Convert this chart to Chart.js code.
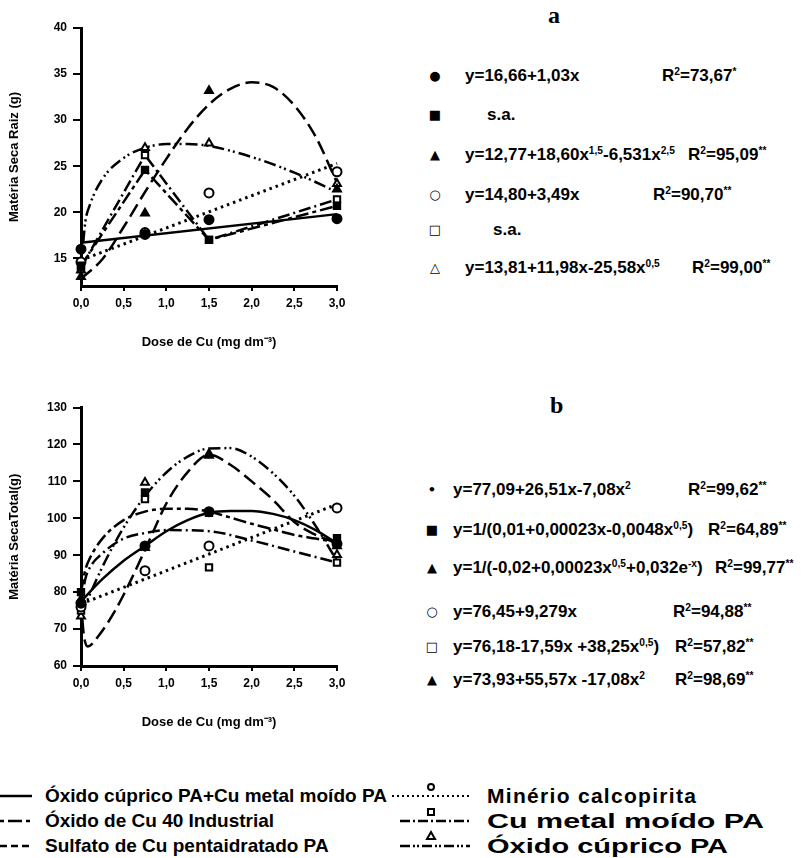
<!DOCTYPE html>
<html>
<head>
<meta charset="utf-8">
<script src="https://cdn.jsdelivr.net/npm/chart.js@4.4.1/dist/chart.umd.min.js"></script>
<style>
    body { margin: 0; background: #fff; }
    #page { position: relative; width: 805px; height: 858px; overflow: hidden; color: #000;
            font-family: "Liberation Sans", Arial, sans-serif; font-weight: bold; }
    canvas { position: absolute; left: 0; }
    .t { position: absolute; white-space: nowrap; font-size: 17px; line-height: 20px; }
    .mk { position: absolute; width: 20px; text-align: center; font-family: "DejaVu Sans", sans-serif;
          font-size: 13px; line-height: 20px; }
    .panel { position: absolute; font-family: "Liberation Serif", serif; font-size: 24px; line-height: 24px; }
    .lg { position: absolute; white-space: nowrap; font-size: 19px; line-height: 22px; transform-origin: 0 50%; }
    sup { font-size: 60%; vertical-align: 0.6em; line-height: 0; }
    svg { position: absolute; left: 0; }
</style>
</head>
<body>
<div id="page">
    <canvas id="chartA" width="400" height="360" style="top:0"></canvas>
    <canvas id="chartB" width="400" height="360" style="top:380px"></canvas>

    <!-- a -->
    <div class="panel" style="left:548px;top:3px">a</div>
    <div class="mk" style="left:425px;top:66px">●</div>
    <div class="t" style="left:465px;top:66px">y=16,66+1,03x</div>
    <div class="t" style="left:662px;top:66px">R<sup>2</sup>=73,67<sup>*</sup></div>
    <div class="mk" style="left:425px;top:105px">■</div>
    <div class="t" style="left:487px;top:105px">s.a.</div>
    <div class="mk" style="left:425px;top:145px">▲</div>
    <div class="t" style="left:465px;top:145px">y=12,77+18,60x<sup>1,5</sup>-6,531x<sup>2,5</sup></div>
    <div class="t" style="left:688px;top:145px">R<sup>2</sup>=95,09<sup>**</sup></div>
    <div class="mk" style="left:425px;top:185px">○</div>
    <div class="t" style="left:465px;top:185px">y=14,80+3,49x</div>
    <div class="t" style="left:653px;top:185px">R<sup>2</sup>=90,70<sup>**</sup></div>
    <div class="mk" style="left:425px;top:220px">□</div>
    <div class="t" style="left:493px;top:220px">s.a.</div>
    <div class="mk" style="left:425px;top:258px">△</div>
    <div class="t" style="left:465px;top:258px">y=13,81+11,98x-25,58x<sup>0,5</sup></div>
    <div class="t" style="left:692px;top:258px">R<sup>2</sup>=99,00<sup>**</sup></div>

    <!-- b -->
    <div class="panel" style="left:550px;top:393px">b</div>
    <div class="mk" style="left:422px;top:480px">•</div>
    <div class="t" style="left:453px;top:480px">y=77,09+26,51x-7,08x<sup>2</sup></div>
    <div class="t" style="left:688px;top:480px">R<sup>2</sup>=99,62<sup>**</sup></div>
    <div class="mk" style="left:422px;top:520px">■</div>
    <div class="t" style="left:453px;top:520px">y=1/(0,01+0,00023x-0,0048x<sup>0,5</sup>)</div>
    <div class="t" style="left:708px;top:520px">R<sup>2</sup>=64,89<sup>**</sup></div>
    <div class="mk" style="left:422px;top:558px">▲</div>
    <div class="t" style="left:453px;top:558px">y=1/(-0,02+0,00023x<sup>0,5</sup>+0,032e<sup>-x</sup>)</div>
    <div class="t" style="left:715px;top:558px">R<sup>2</sup>=99,77<sup>**</sup></div>
    <div class="mk" style="left:422px;top:602px">○</div>
    <div class="t" style="left:453px;top:602px">y=76,45+9,279x</div>
    <div class="t" style="left:673px;top:602px">R<sup>2</sup>=94,88<sup>**</sup></div>
    <div class="mk" style="left:422px;top:637px">□</div>
    <div class="t" style="left:453px;top:637px">y=76,18-17,59x +38,25x<sup>0,5</sup>)</div>
    <div class="t" style="left:675px;top:637px">R<sup>2</sup>=57,82<sup>**</sup></div>
    <div class="mk" style="left:422px;top:670px">▲</div>
    <div class="t" style="left:453px;top:670px">y=73,93+55,57x -17,08x<sup>2</sup></div>
    <div class="t" style="left:675px;top:670px">R<sup>2</sup>=98,69<sup>**</sup></div>

    <!-- legend -->
    <svg width="805" height="88" style="top:770px" stroke="#000" stroke-width="2.5" fill="none">
        <line x1="0" y1="26" x2="32" y2="26"/>
        <line x1="0" y1="51" x2="32" y2="51" stroke-dasharray="4 4 14 4"/>
        <line x1="0" y1="76" x2="32" y2="76" stroke-dasharray="7 4"/>
        <line x1="392" y1="26" x2="470" y2="26" stroke-dasharray="2 3" stroke-width="2"/>
        <circle cx="431" cy="17" r="3" stroke-width="2"/>
        <line x1="400" y1="51" x2="470" y2="51" stroke-dasharray="10 3 2 3"/>
        <rect x="428" y="39" width="6" height="6" stroke-width="2"/>
        <line x1="400" y1="76" x2="470" y2="76" stroke-dasharray="10 3 2 2 2 3"/>
        <polygon points="431,62 427,69 435,69" stroke-width="2"/>
    </svg>
    <div class="lg" style="left:45px;top:785px">Óxido cúprico PA+Cu metal moído PA</div>
    <div class="lg" style="left:45px;top:810px">Óxido de Cu 40 Industrial</div>
    <div class="lg" style="left:45px;top:835px">Sulfato de Cu pentaidratado PA</div>
    <div class="lg" style="left:487px;top:785px;font-size:21px;letter-spacing:1.3px">Minério calcopirita</div>
    <div class="lg" style="left:487px;top:810px;font-size:21px;transform:scaleX(1.45)">Cu metal moído PA</div>
    <div class="lg" style="left:487px;top:835px;font-size:21px;transform:scaleX(1.38)">Óxido cúprico PA</div>
</div>

<script>
// doses of Cu (mg dm-3)
const doses = [0, 0.75, 1.5, 3];
const xTicks = [0, 0.5, 1, 1.5, 2, 2.5, 3];
const xTickLabels = ["0,0", "0,5", "1,0", "1,5", "2,0", "2,5", "3,0"];

// a - Matéria Seca Raiz (g)
const yTicksA = [15, 20, 25, 30, 35, 40];
const rootCircle = [16.0, 17.6, 19.2, 19.3];      // ● Óxido cúprico PA+Cu metal moído PA
const rootSquare = [14.2, 24.6, 17.0, 20.7];      // ■ Óxido de Cu 40 Industrial (s.a.)
const rootTriangle = [13.0, 19.9, 33.2, 22.5];    // ▲ Sulfato de Cu pentaidratado PA
const rootOpenCircle = [14.6, 17.8, 22.1, 24.4];  // ○ Minério calcopirita
const rootOpenSquare = [14.0, 26.2, 17.0, 21.4];  // □ Cu metal moído PA (s.a.)
const rootOpenTriangle = [13.7, 27.0, 27.5, 23.1];// △ Óxido cúprico PA

// fitted curves
const rootLineX = [0, 3];
const rootCircleFit = [16.7, 19.8];
const rootOpenCircleFit = [14.8, 25.3];
const rootTriangleX = [0, 0.25, 0.5, 0.75, 1, 1.25, 1.5, 1.75, 2, 2.25, 2.5, 2.75, 3];
const rootTriangleFit = [12.8, 14.9, 18.4, 22.2, 25.8, 29.1, 31.7, 33.4, 34.1, 33.6, 31.6, 28.2, 23.2];
const rootOpenTriangleX = [0, 0.05, 0.1, 0.25, 0.5, 0.75, 1, 1.25, 1.5, 2, 2.5, 3];
const rootOpenTriangleFit = [13.8, 18.9, 20.7, 23.6, 25.9, 27.0, 27.4, 27.4, 27.2, 26.0, 24.3, 22.2];

// b - Matéria Seca Total (g)
const yTicksB = [60, 70, 80, 90, 100, 110, 120, 130];
const totalCircle = [77.0, 92.5, 101.8, 93.1];
const totalSquare = [80.0, 107.0, 101.5, 94.6];
const totalTriangle = [78.0, 92.0, 117.0, 92.5];
const totalOpenCircle = [76.0, 85.8, 92.5, 102.8];
const totalOpenSquare = [75.0, 105.2, 86.7, 88.0];
const totalOpenTriangle = [73.5, 109.7, 117.5, 90.1];

// fitted curves
const totalCurveX = [0, 0.25, 0.5, 0.75, 1, 1.25, 1.5, 1.75, 2, 2.25, 2.5, 2.75, 3];
const totalCircleFit = [77.5, 83.5, 88.5, 92.5, 96.5, 99.5, 101.5, 102.0, 102.0, 101.2, 99.5, 96.8, 93.2];
const totalOpenTriangleFit = [73.9, 86.8, 97.5, 106.0, 112.4, 116.7, 118.9, 119.0, 116.7, 112.2, 106.1, 97.9, 88.5];
const totalOpenCircleFit = [76.8, 103.8];
const totalTriangleX = [0, 0.03, 0.08, 0.2, 0.4, 0.6, 0.8, 1, 1.25, 1.5, 1.75, 2, 2.25, 2.5, 2.75, 3];
const totalTriangleFit = [78, 69, 65.3, 68, 75, 84, 94, 104, 112.5, 117.2, 114.5, 110, 105, 99, 95.5, 93.3];
const totalSquareX = [0, 0.05, 0.1, 0.25, 0.5, 0.75, 1, 1.25, 1.5, 1.75, 2, 2.25, 2.5, 2.75, 3];
const totalSquareFit = [80, 86, 89, 94.5, 99.5, 101.8, 102.6, 102.6, 101.8, 100.2, 98.5, 97, 95.5, 94.5, 93.5];
const totalOpenSquareX = [0, 0.05, 0.1, 0.25, 0.5, 0.75, 1, 1.5, 2, 2.5, 3];
const totalOpenSquareFit = [76.2, 83.5, 86.5, 90.5, 94.5, 96.0, 96.8, 96.5, 94.0, 91.0, 88.0];

// line patterns
const SOLID = [];
const LONG_SHORT = [13, 4, 4, 4];
const DASHED = [14, 6];
const DOTTED = [2.5, 4];
const DASH_DOT = [12, 4, 2, 4];
const DASH_DOT_DOT = [12, 4, 2, 3, 2, 4];

function pts(xs, ys) {
    return xs.map((x, i) => ({ x: x, y: ys[i] }));
}

function marker(ys, style, filled) {
    return {
        data: pts(doses, ys),
        showLine: false,
        pointStyle: style,
        pointRadius: 4.5,
        pointBackgroundColor: filled ? "#000" : "#fff",
        pointBorderColor: "#000",
        pointBorderWidth: 2,
        clip: false
    };
}

function curve(xs, ys, dash, smooth) {
    return {
        data: pts(xs, ys),
        showLine: true,
        pointRadius: 0,
        borderColor: "#000",
        borderWidth: dash === DOTTED ? 3 : 2.5,
        borderDash: dash,
        cubicInterpolationMode: smooth ? "monotone" : "default",
        tension: 0,
        clip: false
    };
}

function panelOptions(yMin, yMax, yTicks, yTitle, padTop) {
    return {
        responsive: false,
        animation: false,
        devicePixelRatio: 1,
        layout: { padding: { left: 0, top: padTop, right: 63, bottom: 0 } },
        plugins: { legend: { display: false }, tooltip: { enabled: false } },
        scales: {
            x: {
                type: "linear",
                min: 0,
                max: 3,
                afterBuildTicks: s => { s.ticks = xTicks.map(v => ({ value: v })); },
                afterFit: s => { s.height = 74; },
                ticks: {
                    callback: v => xTickLabels[xTicks.indexOf(v)],
                    color: "#000",
                    font: { size: 12, weight: "bold" },
                    padding: 5,
                    maxRotation: 0,
                    autoSkip: false
                },
                grid: { drawOnChartArea: false, tickLength: 5, color: "#000", lineWidth: 2 },
                border: { color: "#000", width: 3 },
                title: {
                    display: true,
                    text: "Dose de Cu (mg dm⁻³)",
                    color: "#000",
                    font: { size: 13, weight: "bold" },
                    padding: { top: 0, bottom: 10 }
                }
            },
            y: {
                type: "linear",
                min: yMin,
                max: yMax,
                afterBuildTicks: s => { s.ticks = yTicks.map(v => ({ value: v })); },
                afterFit: s => { s.width = 81; },
                ticks: { color: "#000", font: { size: 12, weight: "bold" }, padding: 6 },
                grid: { drawOnChartArea: false, tickLength: 8, color: "#000", lineWidth: 2 },
                border: { color: "#000", width: 3 },
                title: {
                    display: true,
                    text: yTitle,
                    color: "#000",
                    font: { size: 13, weight: "bold" },
                    padding: { top: 7, bottom: 0 }
                }
            }
        }
    };
}

document.addEventListener("DOMContentLoaded", () => {
    Chart.defaults.font.family = "'Liberation Sans', Arial, sans-serif";

    // markers first so they sit on top of the lines
    new Chart(document.getElementById("chartA"), {
        type: "scatter",
        data: {
            datasets: [
                marker(rootCircle, "circle", true),
                marker(rootSquare, "rect", true),
                marker(rootTriangle, "triangle", true),
                marker(rootOpenCircle, "circle", false),
                marker(rootOpenSquare, "rect", false),
                marker(rootOpenTriangle, "triangle", false),
                curve(rootLineX, rootCircleFit, SOLID, false),
                curve(doses, rootSquare, LONG_SHORT, false),
                curve(rootTriangleX, rootTriangleFit, DASHED, true),
                curve(rootLineX, rootOpenCircleFit, DOTTED, false),
                curve(doses, rootOpenSquare, DASH_DOT, false),
                curve(rootOpenTriangleX, rootOpenTriangleFit, DASH_DOT_DOT, true)
            ]
        },
        options: panelOptions(12, 40, yTicksA, "Matéria Seca Raiz (g)", 28)
    });

    new Chart(document.getElementById("chartB"), {
        type: "scatter",
        data: {
            datasets: [
                marker(totalCircle, "circle", true),
                marker(totalSquare, "rect", true),
                marker(totalTriangle, "triangle", true),
                marker(totalOpenCircle, "circle", false),
                marker(totalOpenSquare, "rect", false),
                marker(totalOpenTriangle, "triangle", false),
                curve(totalCurveX, totalCircleFit, SOLID, true),
                curve(totalSquareX, totalSquareFit, LONG_SHORT, true),
                curve(totalTriangleX, totalTriangleFit, DASHED, true),
                curve(rootLineX, totalOpenCircleFit, DOTTED, false),
                curve(totalOpenSquareX, totalOpenSquareFit, DASH_DOT, true),
                curve(totalCurveX, totalOpenTriangleFit, DASH_DOT_DOT, true)
            ]
        },
        options: panelOptions(60, 130, yTicksB, "Matéria SecaTotal(g)", 27.5)
    });
});
</script>
</body>
</html>
